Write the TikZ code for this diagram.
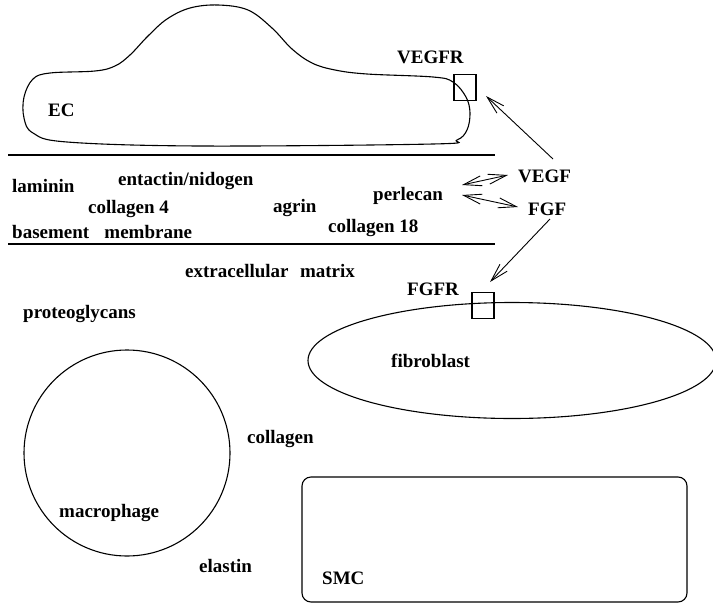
\documentclass[tikz,border=0pt]{standalone}
\usepackage{fontspec}
\setmainfont{Liberation Serif}
\usetikzlibrary{arrows.meta}
\begin{document}
\begin{tikzpicture}[x=1pt,y=-1pt,
  lbl/.style={anchor=base west, inner sep=0pt, font=\fontsize{19}{22}\selectfont\bfseries},
  cell/.style={draw, line width=1.1pt},
  rcpt/.style={draw, line width=1.1pt, minimum width=22pt, minimum height=26pt, inner sep=0pt},
  layer/.style={line width=2.6pt},
  barb/.tip={Straight Barb[length=18pt,width=10pt]},
  arr/.style={line width=0.9pt, -barb},
  darr/.style={line width=0.9pt, barb-barb}]
\path[use as bounding box] (0,0) rectangle (713,603);
\clip (0,0) rectangle (713,603);

% endothelial cell outline
\draw[cell] plot[smooth cycle, tension=0.6] coordinates {
  (50,73) (95,71) (115,66) (130,55) (148,36) (167,19) (190,8) (218,5) (248,10)
  (272,28) (292,49) (312,63) (335,70) (367,74) (433,77) (453,82)
  (466,97) (470,113) (467,130) (457,140) (433,144) (200,146) (67,142)
  (33,133) (24,118) (24,97) (33,79)};

% basement membrane boundaries
\draw[layer] (8,155) -- (495,155);
\draw[layer] (8,244) -- (495,244);

% receptors
\node[rcpt] (vegfrbox) at (465,87.5) {};
\node[rcpt] (fgfrbox) at (483,305.5) {};

% fibroblast, macrophage, smooth muscle cell
\draw[cell] (512,360.5) ellipse [x radius=204, y radius=58];
\draw[cell] (127,453) circle [radius=103];
\draw[cell, rounded corners=9pt] (302,477) rectangle (687,602);

% labels
\node[lbl] (ec) at (48,116) {EC};
\node[lbl] (vegfr) at (397,63) {VEGFR};
\node[lbl] (laminin) at (12,192) {laminin};
\node[lbl] (entactin) at (118,185) {entactin/nidogen};
\node[lbl] (coll4) at (88,213) {collagen 4};
\node[lbl] (basement) at (12,238) {basement\hspace{0.8em}membrane};
\node[lbl] (agrin) at (273,212) {agrin};
\node[lbl] (perlecan) at (373,200) {perlecan};
\node[lbl] (coll18) at (328,232) {collagen 18};
\node[lbl] (vegf) at (518,182) {VEGF};
\node[lbl] (fgf) at (528,215) {FGF};
\node[lbl] (ecm) at (185,277) {extracellular\hspace{0.6em}matrix};
\node[lbl] (fgfr) at (407,295) {FGFR};
\node[lbl] (proteo) at (23,318) {proteoglycans};
\node[lbl] (fibro) at (391,367) {fibroblast};
\node[lbl] (collagen) at (247,443) {collagen};
\node[lbl] (macro) at (59,517) {macrophage};
\node[lbl] (elastin) at (199,572) {elastin};
\node[lbl] (smc) at (322,584) {SMC};

% arrow end points beside the labels and receptors
\coordinate (vegfout) at (553,159);
\coordinate (vegfrin) at (486,96);
\coordinate (perlup) at (462,185);
\coordinate (perldn) at (462,195);
\coordinate (vegfin) at (508,175);
\coordinate (fgfin) at (518,207);
\coordinate (fgfout) at (550,219);
\coordinate (fgfrin) at (490,282);

% growth factor signalling
\draw[arr] (vegfout) -- (vegfrin);
\draw[darr] (perlup) -- (vegfin);
\draw[darr] (perldn) -- (fgfin);
\draw[arr] (fgfout) -- (fgfrin);
\end{tikzpicture}
\end{document}
